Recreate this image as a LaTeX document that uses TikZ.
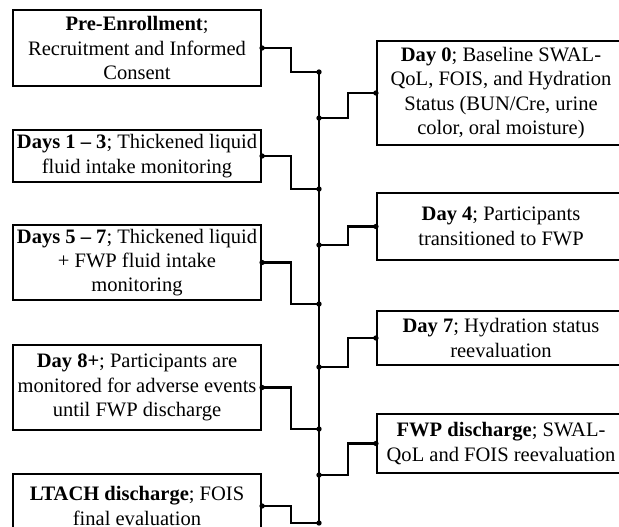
\documentclass[tikz,border=0pt]{standalone}
\usepackage{fontspec}
\setmainfont{Liberation Serif}
\begin{document}
\begin{tikzpicture}[x=0.75pt,y=-0.75pt,
  stage/.style={draw=black,line width=1.6pt,align=center,inner sep=0pt,
    minimum width=248*0.75pt,font=\fontsize{15.4}{18.3}\selectfont},
  link/.style={line width=1.6pt},
  dot/.style={circle,fill=black,inner sep=0pt,minimum size=4pt}]
\useasboundingbox (0,0) rectangle (619,526);
\clip (0,0) rectangle (619,526);
% left boxes
\node[stage,minimum height=76*0.75pt] (b1) at (137,48) {\textbf{Pre-Enrollment};\\Recruitment and Informed\\Consent};
\node[stage,minimum height=52*0.75pt] (b2) at (137,156) {\textbf{Days 1 -- 3}; Thickened liquid\\fluid intake monitoring};
\node[stage,minimum height=75*0.75pt] (b3) at (137,262.5) {\textbf{Days 5 -- 7}; Thickened liquid\\+ FWP fluid intake\\monitoring};
\node[stage,minimum height=85*0.75pt] (b4) at (137,387.5) {\textbf{Day 8+}; Participants are\\monitored for adverse events\\until FWP discharge};
\node[stage,minimum height=64*0.75pt] (b5) at (137,506) {\textbf{LTACH discharge}; FOIS\\final evaluation};
% right boxes
\node[stage,minimum height=104*0.75pt] (r1) at (501,93) {\textbf{Day 0}; Baseline SWAL-\\QoL, FOIS, and Hydration\\Status (BUN/Cre, urine\\color, oral moisture)};
\node[stage,minimum height=67*0.75pt] (r2) at (501,226.5) {\textbf{Day 4}; Participants\\transitioned to FWP};
\node[stage,minimum height=54*0.75pt] (r3) at (501,338) {\textbf{Day 7}; Hydration status\\reevaluation};
\node[stage,minimum height=59*0.75pt] (r4) at (501,443.5) {\textbf{FWP discharge}; SWAL-\\QoL and FOIS reevaluation};
% spine junctions
\coordinate (j1) at (319,72);
\coordinate (k1) at (319,118);
\coordinate (j2) at (319,189);
\coordinate (k2) at (319,245);
\coordinate (j3) at (319,304);
\coordinate (k3) at (319,367);
\coordinate (j4) at (319,429);
\coordinate (k4) at (319,475);
\coordinate (j5) at (319,523);
\draw[link] (j1) -- (j5);
\foreach \b/\j in {b1/j1,b2/j2,b3/j3,b4/j4,b5/j5}{
  \draw[link] (\b.east) -- ++(29,0) |- (\j);
  \node[dot] at (\b.east) {};
  \node[dot] at (\j) {};
}
\foreach \r/\k in {r1/k1,r2/k2,r3/k3,r4/k4}{
  \draw[link] (\k) -- ++(29,0) |- (\r.west);
  \node[dot] at (\r.west) {};
  \node[dot] at (\k) {};
}
\end{tikzpicture}
\end{document}
